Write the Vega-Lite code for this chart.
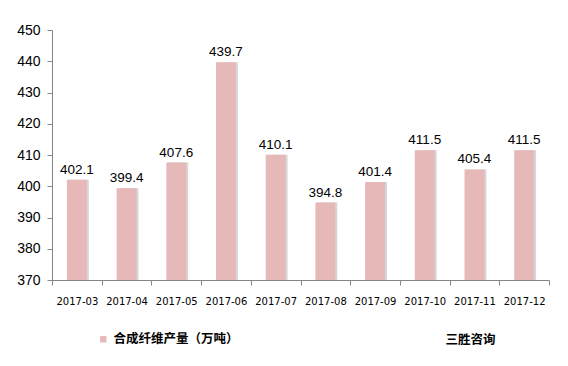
{
  "$schema": "https://vega.github.io/schema/vega-lite/v6.json",
  "width": 497,
  "height": 250,
  "autosize": {"type": "none"},
  "padding": {"left": 52, "top": 30, "right": 19, "bottom": 86},
  "background": "white",
  "config": {"view": {"stroke": null}},
  "data": {
    "values": [
      {"month": "2017-03", "value": 402.1, "series": "合成纤维产量（万吨）"},
      {"month": "2017-04", "value": 399.4, "series": "合成纤维产量（万吨）"},
      {"month": "2017-05", "value": 407.6, "series": "合成纤维产量（万吨）"},
      {"month": "2017-06", "value": 439.7, "series": "合成纤维产量（万吨）"},
      {"month": "2017-07", "value": 410.1, "series": "合成纤维产量（万吨）"},
      {"month": "2017-08", "value": 394.8, "series": "合成纤维产量（万吨）"},
      {"month": "2017-09", "value": 401.4, "series": "合成纤维产量（万吨）"},
      {"month": "2017-10", "value": 411.5, "series": "合成纤维产量（万吨）"},
      {"month": "2017-11", "value": 405.4, "series": "合成纤维产量（万吨）"},
      {"month": "2017-12", "value": 411.5, "series": "合成纤维产量（万吨）"}
    ]
  },
  "title": {
    "text": "三胜咨询",
    "orient": "bottom",
    "anchor": "end",
    "dx": -54,
    "offset": -12,
    "font": "Noto Sans CJK SC",
    "fontSize": 12.5,
    "fontWeight": "bold",
    "color": "#000000"
  },
  "encoding": {
    "x": {
      "field": "month",
      "type": "ordinal",
      "sort": null,
      "scale": {"paddingInner": 0, "paddingOuter": 0},
      "axis": {
        "title": null,
        "labelAngle": 0,
        "tickBand": "extent",
        "domainColor": "#868686",
        "tickColor": "#868686",
        "tickSize": 5,
        "labelPadding": 11,
        "labelFont": "DejaVu Sans",
        "labelFontSize": 10,
        "labelColor": "#000000"
      }
    },
    "y": {
      "field": "value",
      "type": "quantitative",
      "scale": {"domain": [370, 450], "zero": false, "nice": false},
      "axis": {
        "title": null,
        "grid": false,
        "values": [370, 380, 390, 400, 410, 420, 430, 440, 450],
        "domainColor": "#868686",
        "tickColor": "#868686",
        "tickSize": 5,
        "labelPadding": 7,
        "labelFont": "Liberation Sans",
        "labelFontSize": 14,
        "labelColor": "#000000"
      }
    },
    "y2": {"datum": 370}
  },
  "layer": [
    {
      "mark": {"type": "bar", "width": {"band": 0.4}, "color": "#c4c4c4", "opacity": 0.7, "xOffset": 2}
    },
    {
      "mark": {"type": "bar", "width": {"band": 0.4}},
      "encoding": {
        "color": {
          "field": "series",
          "type": "nominal",
          "scale": {"range": ["#E6B9B8"]},
          "legend": {
            "title": null,
            "orient": "none",
            "legendX": 45,
            "legendY": 303,
            "symbolType": "square",
            "symbolSize": 40,
            "symbolStrokeWidth": 0,
            "labelFont": "Noto Sans CJK SC",
            "labelFontSize": 12.5,
            "labelFontWeight": "bold",
            "labelColor": "#000000"
          }
        }
      }
    },
    {
      "mark": {"type": "text", "baseline": "bottom", "dy": -3, "font": "Liberation Sans", "fontSize": 13.5, "color": "#000000"},
      "encoding": {
        "text": {"field": "value", "type": "quantitative", "format": ".1f"}
      }
    }
  ]
}
